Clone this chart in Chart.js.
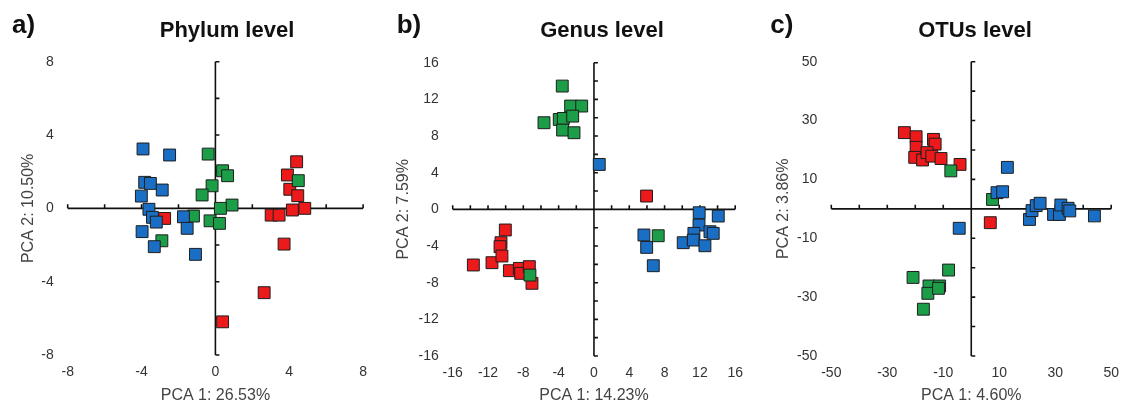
<!DOCTYPE html>
<html>
<head>
<meta charset="utf-8">
<script src="https://cdn.jsdelivr.net/npm/chart.js@4.4.0/dist/chart.umd.min.js"></script>
<style>
  html, body { margin: 0; padding: 0; background: #fff; }
  #wrap { position: relative; width: 1128px; height: 405px; overflow: hidden; }
  .panel { position: absolute; top: 0; width: 376px; height: 405px; }
</style>
</head>
<body>
<div id="wrap">
  <div class="panel" style="left:0"><canvas id="pa" width="376" height="405"></canvas></div>
  <div class="panel" style="left:376px"><canvas id="pb" width="376" height="405"></canvas></div>
  <div class="panel" style="left:752px"><canvas id="pc" width="376" height="405"></canvas></div>
</div>
<script>
// a) phylum level
var phylumBlue = [[-3.92,3.24],[-2.48,2.91],[-3.83,1.42],[-3.52,1.36],[-2.88,1.0],[-4.01,0.67],[-3.6,-0.05],
  [-3.41,-0.49],[-3.2,-0.75],[-1.73,-0.46],[-1.53,-1.09],[-3.97,-1.27],[-3.31,-2.09],[-1.08,-2.51]];
var phylumRed = [[4.4,2.54],[3.9,1.82],[4.03,1.04],[4.46,0.69],[4.17,-0.09],[4.84,0.0],[3.02,-0.37],
  [3.45,-0.37],[3.72,-1.95],[-2.75,-0.55],[2.64,-4.6],[0.39,-6.19]];
var phylumGreen = [[-0.39,2.96],[0.39,2.05],[0.66,1.78],[4.49,1.51],[-0.18,1.23],[-0.72,0.73],[0.9,0.18],
  [0.27,0.0],[-1.19,-0.42],[-0.29,-0.68],[0.22,-0.82],[-2.9,-1.77]];
var phylumTicks = [-8, -4, 0, 4, 8];

// b) genus level
var genusBlue = [[0.6,4.9],[11.92,-0.37],[14.08,-0.73],[11.9,-1.71],[11.32,-2.62],[13.14,-2.44],[13.51,-2.62],
  [10.11,-3.64],[11.25,-3.35],[12.57,-3.97],[5.66,-2.8],[5.97,-4.15],[6.72,-6.15]];
var genusRed = [[5.96,1.45],[-13.66,-6.07],[-11.55,-5.82],[-10.53,-3.64],[-10.64,-4.07],[-10.04,-2.25],
  [-10.42,-5.09],[-9.58,-6.69],[-8.45,-6.44],[-8.3,-6.98],[-7.32,-6.25],[-7.02,-8.07]];
var genusGreen = [[-3.59,13.45],[-5.66,9.45],[-3.93,9.81],[-3.47,9.92],[-2.64,11.27],[-1.39,11.27],
  [-2.41,10.17],[-3.55,8.65],[-2.26,8.36],[-7.25,-7.17],[7.28,-2.88]];
var genusTicks = [-16, -12, -8, -4, 0, 4, 8, 12, 16];

// c) OTUs level
var otuBlue = [[12.9,14.1],[9.2,5.5],[11.2,5.8],[-4.3,-6.6],[20.8,-3.6],[21.7,-0.6],[23.2,1.1],[24.6,1.9],
  [29.4,-1.9],[31.5,-1.9],[32.0,1.3],[34.6,0.2],[35.2,-0.7],[44.0,-2.4]];
var otuRed = [[-23.9,25.9],[-19.7,24.5],[-19.7,20.9],[-13.5,23.6],[-12.9,22.0],[-20.2,17.5],[-17.4,16.6],
  [-15.8,19.1],[-14.1,17.9],[-10.8,17.1],[-4.0,15.1],[6.8,-4.7]];
var otuGreen = [[-7.3,12.9],[7.6,3.2],[-20.8,-23.3],[-8.1,-20.8],[-15.1,-26.2],[-11.3,-26.2],[-15.5,-28.7],
  [-11.7,-27.0],[-17.1,-34.1]];
var otuTicks = [-50, -30, -10, 10, 30, 50];

var FONT = '"Liberation Sans", Arial, sans-serif';
Chart.defaults.font.family = FONT;

// axes crossing at the origin, with small ticks
var crossAxes = {
  id: 'crossAxes',
  beforeDatasetsDraw: function(chart, args, opts) {
    var ctx = chart.ctx, x = chart.scales.x, y = chart.scales.y;
    var x0 = x.getPixelForValue(0), y0 = y.getPixelForValue(0);
    ctx.save();
    ctx.strokeStyle = '#111';
    ctx.lineWidth = 1.6;
    ctx.beginPath();
    ctx.moveTo(x.getPixelForValue(x.min), y0);
    ctx.lineTo(x.getPixelForValue(x.max), y0);
    ctx.moveTo(x0, y.getPixelForValue(y.max));
    ctx.lineTo(x0, y.getPixelForValue(y.min));
    for (var v = x.min; v <= x.max + 1e-9; v += opts.minor) {
      var px = x.getPixelForValue(v);
      ctx.moveTo(px, y0); ctx.lineTo(px, y0 - 4);
    }
    for (var w = y.min; w <= y.max + 1e-9; w += opts.minor) {
      var py = y.getPixelForValue(w);
      ctx.moveTo(x0, py); ctx.lineTo(x0 + 4, py);
    }
    ctx.stroke();
    ctx.restore();
  }
};

// "a)" letter and panel title
var panelTitle = {
  id: 'panelTitle',
  afterDraw: function(chart, args, opts) {
    var ctx = chart.ctx;
    ctx.save();
    ctx.fillStyle = '#111';
    ctx.textBaseline = 'alphabetic';
    ctx.textAlign = 'left';
    ctx.font = 'bold 26px ' + FONT;
    ctx.fillText(opts.letter, opts.letterX, 33);
    ctx.textAlign = 'center';
    ctx.font = 'bold 22px ' + FONT;
    ctx.fillText(opts.text, opts.textX, 37);
    ctx.restore();
  }
};

function points(list, color) {
  return {
    data: list.map(function(p) { return {x: p[0], y: p[1]}; }),
    pointStyle: 'rect',
    pointRadius: 8.4,
    pointHoverRadius: 8.4,
    backgroundColor: color,
    borderColor: '#1e1e1e',
    borderWidth: 1
  };
}

function makeChart(id, blue, green, red, ticks, box) {
  var lim = ticks[ticks.length - 1];
  var tickFont = {size: 14, family: FONT};
  var titleFont = {size: 16, family: FONT};
  new Chart(document.getElementById(id), {
    type: 'scatter',
    data: {
      datasets: [points(blue, '#1a6ec4'), points(green, '#1c9e48'), points(red, '#ec1a1a')]
    },
    options: {
      responsive: false,
      animation: false,
      layout: {padding: {left: 0, right: 376 - box.right, top: box.top, bottom: 0}},
      plugins: {
        legend: {display: false},
        tooltip: {enabled: false},
        crossAxes: {minor: box.minor},
        panelTitle: {letter: box.letter, letterX: box.letterX, text: box.title, textX: box.titleX}
      },
      scales: {
        x: {
          type: 'linear', min: -lim, max: lim,
          afterBuildTicks: function(s) { s.ticks = ticks.map(function(v) { return {value: v}; }); },
          afterFit: function(s) { s.height = 405 - box.bottom; },
          grid: {display: false, drawTicks: false},
          border: {display: false},
          ticks: {padding: 9, font: tickFont, color: '#333', maxRotation: 0},
          title: {display: true, text: box.xTitle, font: titleFont, color: '#444', padding: 0}
        },
        y: {
          type: 'linear', min: -lim, max: lim,
          afterBuildTicks: function(s) { s.ticks = ticks.map(function(v) { return {value: v}; }); },
          afterFit: function(s) { s.width = box.left; },
          grid: {display: false, drawTicks: false},
          border: {display: false},
          ticks: {padding: 14, font: tickFont, color: '#333'},
          title: {display: true, text: box.yTitle, font: titleFont, color: '#444',
                  padding: {top: box.yTitlePad, bottom: 0}}
        }
      }
    },
    plugins: [crossAxes, panelTitle]
  });
}

makeChart('pa', phylumBlue, phylumGreen, phylumRed, phylumTicks, {
  left: 67.7, right: 364, top: 61.7, bottom: 355, minor: 2, yTitlePad: 19.4,
  letter: 'a)', letterX: 12, title: 'Phylum level', titleX: 227,
  xTitle: 'PCA 1: 26.53%', yTitle: 'PCA 2: 10.50%'
});
makeChart('pb', genusBlue, genusGreen, genusRed, genusTicks, {
  left: 76.7, right: 359.3, top: 62.7, bottom: 356, minor: 2, yTitlePad: 18.4,
  letter: 'b)', letterX: 20.7, title: 'Genus level', titleX: 226,
  xTitle: 'PCA 1: 14.23%', yTitle: 'PCA 2: 7.59%'
});
makeChart('pc', otuBlue, otuGreen, otuRed, otuTicks, {
  left: 79.3, right: 363.3, top: 61.7, bottom: 356, minor: 10, yTitlePad: 22.4,
  letter: 'c)', letterX: 18.3, title: 'OTUs level', titleX: 223,
  xTitle: 'PCA 1: 4.60%', yTitle: 'PCA 2: 3.86%'
});
</script>
</body>
</html>
